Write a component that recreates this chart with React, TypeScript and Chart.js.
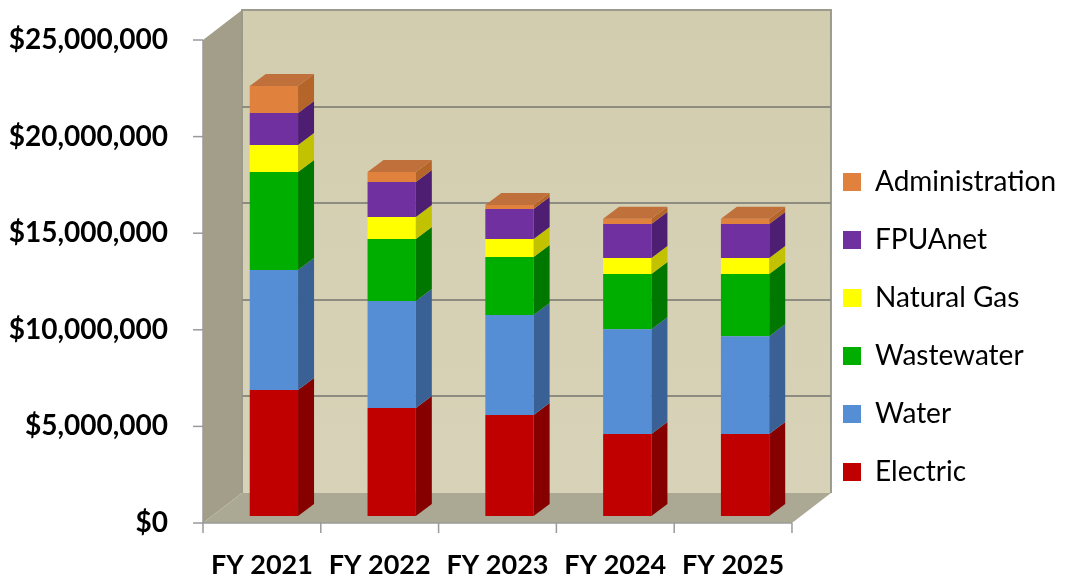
import React, { useEffect, useRef } from 'react';
import { Chart, registerables } from 'chart.js';
Chart.register(...registerables);

const categories = ['FY 2021', 'FY 2022', 'FY 2023', 'FY 2024', 'FY 2025'];
const electric = [6520000, 5590000, 5230000, 4240000, 4240000];
const water = [6210000, 5540000, 5180000, 5430000, 5070000];
const wastewater = [5070000, 3210000, 3000000, 2850000, 3210000];
const naturalGas = [1400000, 1140000, 930000, 830000, 830000];
const fpuanet = [1660000, 1810000, 1550000, 1760000, 1760000];
const administration = [1400000, 520000, 210000, 280000, 280000];
const yTicks = [0, 5000000, 10000000, 15000000, 20000000, 25000000];

const seriesNames = ['Electric', 'Water', 'Wastewater', 'Natural Gas', 'FPUAnet', 'Administration'];
const seriesValues = [electric, water, wastewater, naturalGas, fpuanet, administration];
const frontColors = ['#C00000', '#558ED5', '#00AE00', '#FFFF00', '#7030A0', '#E0823E'];
const sideColors = ['#860000', '#3A6196', '#007800', '#C2C200', '#4D1E72', '#B5652A'];
const topColors = ['#A00000', '#4A78B0', '#009000', '#D8D800', '#5E2888', '#C0703A'];

// geometry of the pseudo-3D box (pixels)
const WALL = { dx: 39, dy: -30 };
const BAR_TO_FRONT = { dx: -12, dy: 7 };
const BAR_DEPTH = { dx: 16, dy: -12 };

const threeD = {
  id: 'threeD',
  afterLayout(chart: any) {
    const lg = chart.legend;
    if (lg) {
      const w = lg.right - lg.left;
      lg.left = 813;
      lg.right = 813 + w;
      lg.top += 21;
      lg.bottom += 21;
    }
  },
  beforeDatasetsDraw(chart: any) {
    const ctx = chart.ctx;
    const { left, right } = chart.chartArea;
    const ys = chart.scales.y;
    const fl = left + BAR_TO_FRONT.dx;
    const fr = right + BAR_TO_FRONT.dx;
    const fy = (v: number) => ys.getPixelForValue(v) + BAR_TO_FRONT.dy;
    const fTop = fy(yTicks[yTicks.length - 1]);
    const fBot = fy(0);
    const bl = fl + WALL.dx, br = fr + WALL.dx;
    const bTop = fTop + WALL.dy, bBot = fBot + WALL.dy;
    ctx.save();
    // back wall
    const g = ctx.createLinearGradient(0, bTop, 0, bBot);
    g.addColorStop(0, '#D3CDAF');
    g.addColorStop(1, '#D8D2B8');
    ctx.fillStyle = g;
    ctx.fillRect(bl, bTop, br - bl, bBot - bTop);
    // side wall
    ctx.fillStyle = '#A29E8A';
    ctx.beginPath();
    ctx.moveTo(fl, fTop); ctx.lineTo(bl, bTop); ctx.lineTo(bl, bBot); ctx.lineTo(fl, fBot);
    ctx.closePath(); ctx.fill();
    // floor
    ctx.fillStyle = '#ABA893';
    ctx.beginPath();
    ctx.moveTo(fl, fBot); ctx.lineTo(bl, bBot); ctx.lineTo(br, bBot); ctx.lineTo(fr, fBot);
    ctx.closePath(); ctx.fill();
    // back wall border
    ctx.strokeStyle = '#9C9A8C';
    ctx.lineWidth = 2;
    ctx.beginPath();
    ctx.moveTo(bl, bBot); ctx.lineTo(bl, bTop); ctx.lineTo(br, bTop); ctx.lineTo(br, bBot);
    ctx.stroke();
    // gridlines on back wall
    ctx.strokeStyle = '#8E8C80';
    ctx.lineWidth = 2;
    yTicks.forEach((v) => {
      if (v === 0 || v === yTicks[yTicks.length - 1]) return;
      const yy = Math.round(fy(v) + WALL.dy);
      ctx.beginPath(); ctx.moveTo(bl, yy); ctx.lineTo(br, yy); ctx.stroke();
    });
    // front axes
    ctx.strokeStyle = '#9A9A9A';
    ctx.lineWidth = 1.5;
    ctx.beginPath(); ctx.moveTo(fl, fTop); ctx.lineTo(fl, fBot); ctx.lineTo(fr, fBot); ctx.stroke();
    yTicks.forEach((v) => {
      const yy = fy(v);
      ctx.beginPath(); ctx.moveTo(fl - 10, yy); ctx.lineTo(fl, yy); ctx.stroke();
    });
    const n = categories.length;
    for (let i = 0; i <= n; i++) {
      const xx = fl + ((fr - fl) * i) / n;
      ctx.beginPath(); ctx.moveTo(xx, fBot); ctx.lineTo(xx, fBot + 10); ctx.stroke();
    }
    ctx.restore();
  },
  afterDatasetsDraw(chart: any) {
    const ctx = chart.ctx;
    const metas = chart.getSortedVisibleDatasetMetas();
    ctx.save();
    metas.forEach((meta: any) => {
      const di = meta.index;
      const isTop = di === seriesNames.length - 1;
      meta.data.forEach((bar: any) => {
        const p = bar.getProps(['x', 'y', 'base', 'width'], true);
        const l = p.x - p.width / 2, r = p.x + p.width / 2;
        const top = Math.min(p.y, p.base), bot = Math.max(p.y, p.base);
        ctx.fillStyle = sideColors[di];
        ctx.beginPath();
        ctx.moveTo(r, top); ctx.lineTo(r + BAR_DEPTH.dx, top + BAR_DEPTH.dy);
        ctx.lineTo(r + BAR_DEPTH.dx, bot + BAR_DEPTH.dy); ctx.lineTo(r, bot);
        ctx.closePath(); ctx.fill();
        if (isTop) {
          ctx.fillStyle = topColors[di];
          ctx.beginPath();
          ctx.moveTo(l, top); ctx.lineTo(l + BAR_DEPTH.dx, top + BAR_DEPTH.dy);
          ctx.lineTo(r + BAR_DEPTH.dx, top + BAR_DEPTH.dy); ctx.lineTo(r, top);
          ctx.closePath(); ctx.fill();
        }
      });
    });
    ctx.restore();
  },
};

export default function App() {
  const ref = useRef<HTMLCanvasElement>(null);
  useEffect(() => {
    if (!ref.current) return;
    const chart = new Chart(ref.current, {
      type: 'bar',
      data: {
        labels: categories,
        datasets: seriesNames.map((name, i) => ({
          label: name,
          data: seriesValues[i],
          backgroundColor: frontColors[i],
          borderWidth: 0,
          barPercentage: 0.41,
          categoryPercentage: 1,
        })),
      },
      options: {
        responsive: false,
        animation: false,
        layout: { padding: { top: 33, left: 0, right: 11, bottom: 0 } },
        plugins: {
          legend: {
            position: 'right',
            reverse: true,
            labels: {
              boxWidth: 18,
              boxHeight: 18,
              padding: 30,
              color: '#000',
              font: { family: 'Lato', size: 28 },
            },
          },
          tooltip: { enabled: false },
        },
        scales: {
          x: {
            stacked: true,
            grid: { display: false, drawTicks: false },
            border: { display: false },
            ticks: {
              color: '#000',
              font: { family: 'Lato', size: 27, weight: 'bold' },
              padding: 33,
              labelOffset: BAR_TO_FRONT.dx,
              maxRotation: 0,
              autoSkip: false,
            },
            afterFit: (s: any) => { s.height = 63; s.paddingLeft = 0; s.paddingRight = 0; },
          },
          y: {
            stacked: true,
            min: 0,
            max: 25000000,
            grid: { display: false, drawTicks: false },
            border: { display: false },
            afterBuildTicks: (s: any) => { s.ticks = yTicks.map((v) => ({ value: v })); },
            ticks: {
              color: '#000',
              font: { family: 'Lato', size: 28, weight: 'bold' },
              padding: 47,
              labelOffset: BAR_TO_FRONT.dy,
              callback: (v: any) => '$' + Number(v).toLocaleString('en-US'),
            },
            afterFit: (s: any) => { s.width = 215; s.paddingTop = 0; s.paddingBottom = 0; },
          },
        },
      },
      plugins: [threeD],
    });
    return () => chart.destroy();
  }, []);
  return (
    <div style={{ position: 'fixed', left: 0, top: 0, width: 1068, height: 579, background: '#fff' }}>
      <canvas ref={ref} width={1068} height={579} style={{ display: 'block' }} />
    </div>
  );
}
